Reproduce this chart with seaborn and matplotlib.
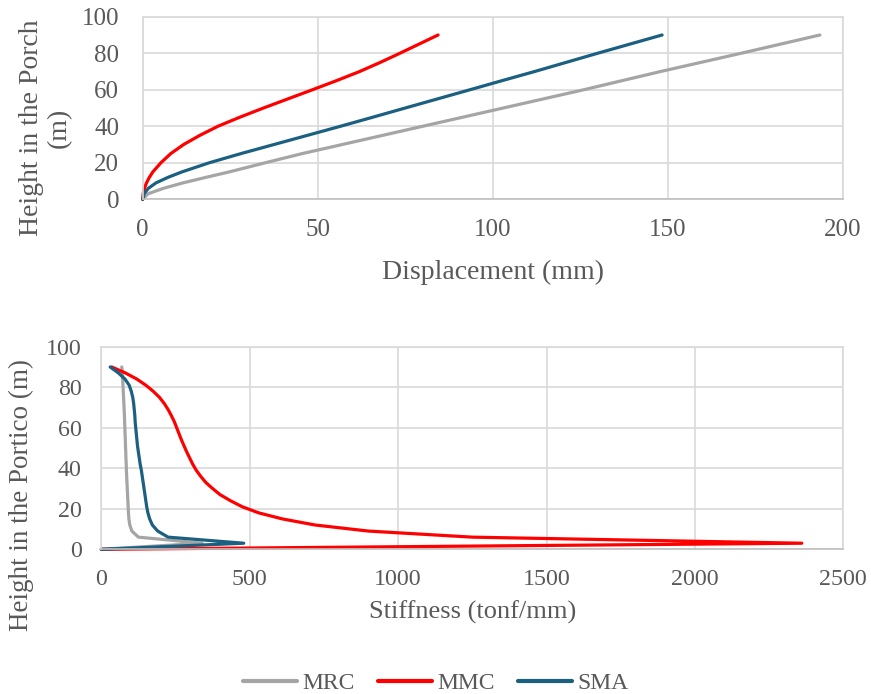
import numpy as np
import pandas as pd
import matplotlib
matplotlib.use("Agg")
import matplotlib.pyplot as plt
import seaborn as sns

# top chart: displacement (mm) at each height (m)
heights_top = [0, 3, 6, 9, 12, 15, 20, 25, 30, 35, 40, 45, 50, 60, 65, 70, 75, 80, 90]
disp_mrc = [0, 1.5, 5.9, 11.5, 18, 24.7, 35, 45.5, 57, 68.5, 80, 91.5, 103, 126, 137, 148, 159.5, 171, 193.5]
disp_mmc = [0, 0.15, 0.5, 1.1, 1.9, 2.9, 5.2, 8.0, 11.7, 16.3, 21.5, 27.8, 34.5, 48.5, 55.4, 62, 67.9, 73.5, 84.4]
disp_sma = [0, 0.4, 1.6, 3.8, 7.2, 11.2, 19, 28, 37.5, 47, 56.5, 65.8, 75, 93.5, 102.7, 112, 121, 130, 148.4]

# bottom chart: stiffness (tonf/mm) at each storey height (m)
heights_bot = list(range(0, 91, 3))
stiff_mrc = [0, 340, 125, 103, 96, 93, 91.5, 90.5, 89.5, 88.5, 87.5, 86.5, 85.5, 84.5,
             84, 83, 82.5, 81.5, 81, 80, 79.5, 78.5, 78, 77, 76, 75, 74, 73, 72, 71, 69]
stiff_mmc = [0, 2360, 1250, 900, 720, 610, 530, 475, 435, 400, 375, 352, 335, 320,
             308, 298, 288, 279, 270, 262, 254, 246, 236, 225, 212, 196, 175, 150, 120, 82, 35]
stiff_sma = [0, 480, 225, 190, 172, 163, 157, 153, 150, 147, 144, 141, 138, 135,
             131, 128, 125, 122, 120, 118, 116, 114, 113, 111, 109, 106, 101, 94, 80, 58, 30]

models = ["MRC", "MMC", "SMA"]
colors = {"MRC": "#a5a5a5", "MMC": "#ff0000", "SMA": "#1b6080"}

top = pd.concat([
    pd.DataFrame({"Displacement": d, "Height": heights_top, "Model": m})
    for m, d in zip(models, [disp_mrc, disp_mmc, disp_sma])
])
bot = pd.concat([
    pd.DataFrame({"Stiffness": s, "Height": heights_bot, "Model": m})
    for m, s in zip(models, [stiff_mrc, stiff_mmc, stiff_sma])
])

sns.set_style("white")
plt.rcParams["font.family"] = ["Liberation Serif", "DejaVu Serif"]
txt = "#595959"

fig = plt.figure(figsize=(8.71, 6.94), dpi=100)
ax1 = fig.add_axes([0.1638, 0.7128, 0.8037, 0.2631])
ax2 = fig.add_axes([0.1163, 0.2085, 0.8519, 0.2919])

sns.lineplot(data=top, x="Displacement", y="Height", hue="Model", palette=colors,
             sort=False, estimator=None, linewidth=2.3, ax=ax1, legend=False)
sns.lineplot(data=bot, x="Stiffness", y="Height", hue="Model", palette=colors,
             sort=False, estimator=None, linewidth=2.3, ax=ax2, legend=True)

for ln in ax1.lines + ax2.lines:
    ln.set_clip_on(False)
    ln.set_solid_capstyle("round")
    ln.set_solid_joinstyle("round")

ax1.set_xlim(0, 200)
ax1.set_ylim(0, 100)
ax1.set_xticks(np.arange(0, 201, 50))
ax1.set_yticks(np.arange(0, 101, 20))
ax2.set_xlim(0, 2500)
ax2.set_ylim(0, 100)
ax2.set_xticks(np.arange(0, 2501, 500))
ax2.set_yticks(np.arange(0, 101, 20))

for ax in (ax1, ax2):
    ax.grid(True, color="#d9d9d9", linewidth=1.2)
    ax.set_axisbelow(True)
    for s in ax.spines.values():
        s.set_color("#d9d9d9")
        s.set_linewidth(1.2)
    ax.spines["bottom"].set_color("#bfbfbf")
    ax.tick_params(length=0, colors=txt)

ax1.tick_params(axis="x", pad=14, labelsize=18)
ax1.tick_params(axis="y", pad=17, labelsize=18)
ax2.tick_params(axis="both", pad=14, labelsize=17.3)

ax1.set_xlabel("Displacement (mm)", fontsize=20, color=txt, labelpad=14)
ax1.set_ylabel("Height in the Porch\n(m)", fontsize=20, color=txt, linespacing=1.15)
ax1.yaxis.set_label_coords(-0.101, 0.39)
ax2.set_xlabel("Stiffness (tonf/mm)", fontsize=19, color=txt, labelpad=8)
ax2.set_ylabel("Height in the Portico (m)", fontsize=19.5, color=txt)
ax2.yaxis.set_label_coords(-0.091, 0.27)

handles, labels = ax2.get_legend_handles_labels()
ax2.get_legend().remove()
for h in handles:
    h.set_linewidth(3)
fig.legend(handles, labels, loc="center", bbox_to_anchor=(0.5, 1 - 683 / 694),
           ncol=3, frameon=False, fontsize=17, labelcolor=txt,
           handlelength=2.3, handletextpad=0.2, columnspacing=1.0)

fig.savefig("out.png", dpi=100)
